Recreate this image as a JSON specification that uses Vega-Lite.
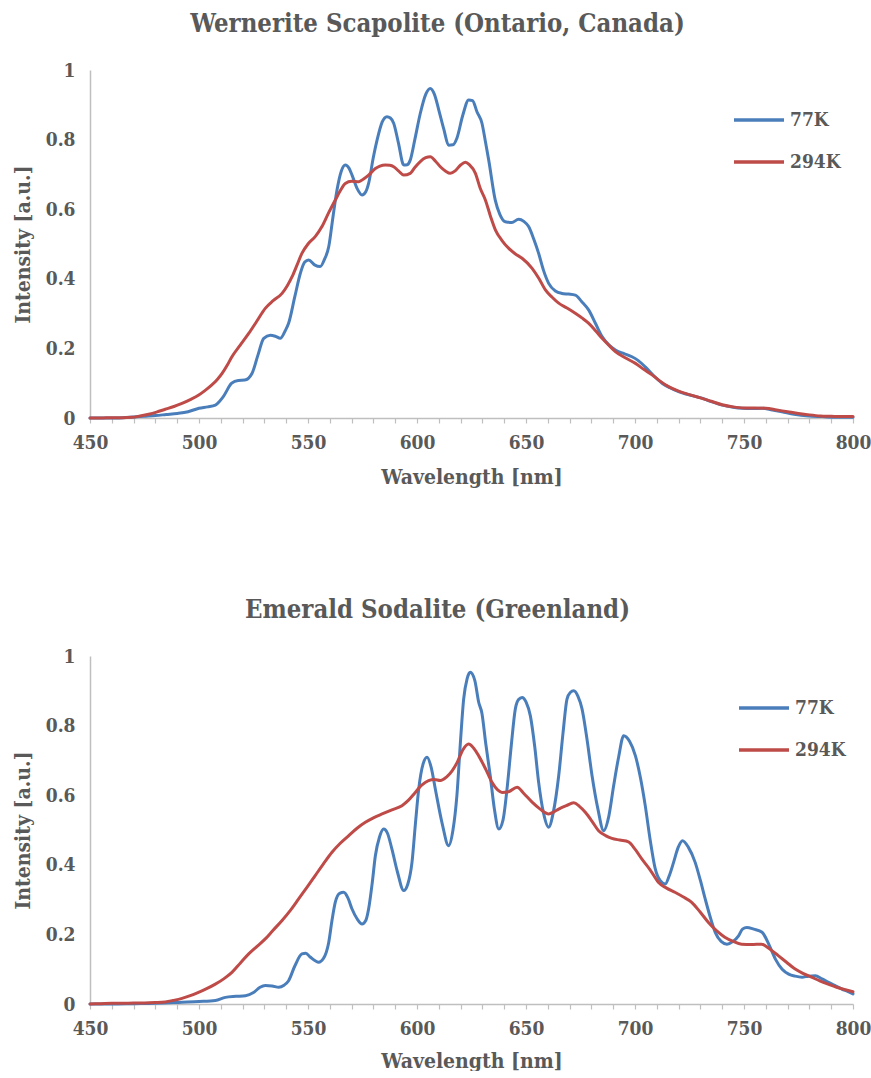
{
"$schema": "https://vega.github.io/schema/vega-lite/v6.json",
"background": "white",
"padding": {"left": 12, "top": 11, "right": 20, "bottom": 0},
"config": {
 "font": "DejaVu Serif Condensed, DejaVu Serif",
 "view": {"stroke": null},
 "axis": {"grid": false, "domainColor": "#bfbfbf", "domainWidth": 1.5, "tickColor": "#bfbfbf", "tickWidth": 1.2,
  "labelFont": "DejaVu Serif Condensed, DejaVu Serif", "labelFontWeight": "bold", "labelFontSize": 19, "labelColor": "#595959",
  "titleFont": "DejaVu Serif Condensed, DejaVu Serif", "titleFontWeight": "bold", "titleFontSize": 21, "titleColor": "#595959"},
 "legend": {"labelFont": "DejaVu Serif Condensed, DejaVu Serif", "labelFontWeight": "bold", "labelFontSize": 19, "labelColor": "#595959", "padding": 0},
 "title": {"font": "DejaVu Serif Condensed, DejaVu Serif", "fontWeight": "bold", "fontSize": 25.5, "color": "#595959", "anchor": "middle", "dx": -34, "offset": 24}
},
"resolve": {"scale": {"color": "independent"}, "legend": {"color": "independent"}},
"spacing": 110,
"datasets": {
"top": [
{"w":450,"v":0,"s":"77K"},{"w":460,"v":0,"s":"77K"},{"w":465,"v":0.001,"s":"77K"},{"w":470,"v":0.003,"s":"77K"},{"w":475,"v":0.005,"s":"77K"},{"w":480,"v":0.007,"s":"77K"},{"w":485,"v":0.01,"s":"77K"},{"w":490,"v":0.013,"s":"77K"},{"w":495,"v":0.018,"s":"77K"},{"w":500,"v":0.028,"s":"77K"},{"w":504,"v":0.032,"s":"77K"},{"w":507.5,"v":0.037,"s":"77K"},{"w":511,"v":0.06,"s":"77K"},{"w":515,"v":0.1,"s":"77K"},{"w":518,"v":0.108,"s":"77K"},{"w":521,"v":0.109,"s":"77K"},{"w":524.3,"v":0.128,"s":"77K"},{"w":527,"v":0.18,"s":"77K"},{"w":529.7,"v":0.229,"s":"77K"},{"w":532.7,"v":0.238,"s":"77K"},{"w":535,"v":0.235,"s":"77K"},{"w":537.3,"v":0.229,"s":"77K"},{"w":539.5,"v":0.25,"s":"77K"},{"w":541.1,"v":0.272,"s":"77K"},{"w":544,"v":0.35,"s":"77K"},{"w":546.5,"v":0.416,"s":"77K"},{"w":548.5,"v":0.448,"s":"77K"},{"w":550.3,"v":0.454,"s":"77K"},{"w":553,"v":0.44,"s":"77K"},{"w":555.6,"v":0.435,"s":"77K"},{"w":557.5,"v":0.455,"s":"77K"},{"w":559.5,"v":0.492,"s":"77K"},{"w":561.5,"v":0.58,"s":"77K"},{"w":563.3,"v":0.655,"s":"77K"},{"w":565.3,"v":0.71,"s":"77K"},{"w":567.1,"v":0.727,"s":"77K"},{"w":568.8,"v":0.718,"s":"77K"},{"w":570.2,"v":0.698,"s":"77K"},{"w":572.5,"v":0.66,"s":"77K"},{"w":574.8,"v":0.641,"s":"77K"},{"w":576.5,"v":0.65,"s":"77K"},{"w":577.8,"v":0.674,"s":"77K"},{"w":580,"v":0.75,"s":"77K"},{"w":581.7,"v":0.799,"s":"77K"},{"w":584,"v":0.85,"s":"77K"},{"w":586.2,"v":0.866,"s":"77K"},{"w":587.8,"v":0.862,"s":"77K"},{"w":589.3,"v":0.847,"s":"77K"},{"w":591.5,"v":0.79,"s":"77K"},{"w":593.9,"v":0.727,"s":"77K"},{"w":595.5,"v":0.728,"s":"77K"},{"w":596.9,"v":0.741,"s":"77K"},{"w":599,"v":0.8,"s":"77K"},{"w":601.5,"v":0.875,"s":"77K"},{"w":604,"v":0.93,"s":"77K"},{"w":606.1,"v":0.947,"s":"77K"},{"w":608,"v":0.93,"s":"77K"},{"w":610,"v":0.885,"s":"77K"},{"w":612.3,"v":0.83,"s":"77K"},{"w":614.5,"v":0.784,"s":"77K"},{"w":616.5,"v":0.785,"s":"77K"},{"w":618.3,"v":0.804,"s":"77K"},{"w":621,"v":0.87,"s":"77K"},{"w":623.7,"v":0.914,"s":"77K"},{"w":625.5,"v":0.912,"s":"77K"},{"w":627.5,"v":0.88,"s":"77K"},{"w":629.8,"v":0.847,"s":"77K"},{"w":631.5,"v":0.79,"s":"77K"},{"w":632.9,"v":0.741,"s":"77K"},{"w":635.9,"v":0.626,"s":"77K"},{"w":638,"v":0.585,"s":"77K"},{"w":640.5,"v":0.564,"s":"77K"},{"w":643.5,"v":0.562,"s":"77K"},{"w":646.6,"v":0.571,"s":"77K"},{"w":649,"v":0.565,"s":"77K"},{"w":651.2,"v":0.55,"s":"77K"},{"w":653.5,"v":0.515,"s":"77K"},{"w":655.8,"v":0.473,"s":"77K"},{"w":658,"v":0.425,"s":"77K"},{"w":660.4,"v":0.387,"s":"77K"},{"w":663.5,"v":0.365,"s":"77K"},{"w":666.5,"v":0.358,"s":"77K"},{"w":669.5,"v":0.356,"s":"77K"},{"w":672.6,"v":0.353,"s":"77K"},{"w":675.5,"v":0.335,"s":"77K"},{"w":678.8,"v":0.31,"s":"77K"},{"w":682,"v":0.27,"s":"77K"},{"w":684.9,"v":0.234,"s":"77K"},{"w":688,"v":0.21,"s":"77K"},{"w":691,"v":0.195,"s":"77K"},{"w":695,"v":0.185,"s":"77K"},{"w":698.6,"v":0.176,"s":"77K"},{"w":701.5,"v":0.165,"s":"77K"},{"w":704.7,"v":0.147,"s":"77K"},{"w":708.5,"v":0.122,"s":"77K"},{"w":712.4,"v":0.1,"s":"77K"},{"w":716,"v":0.087,"s":"77K"},{"w":720,"v":0.076,"s":"77K"},{"w":725,"v":0.066,"s":"77K"},{"w":730.7,"v":0.057,"s":"77K"},{"w":735,"v":0.047,"s":"77K"},{"w":740,"v":0.037,"s":"77K"},{"w":745,"v":0.031,"s":"77K"},{"w":749,"v":0.028,"s":"77K"},{"w":754,"v":0.027,"s":"77K"},{"w":758.3,"v":0.028,"s":"77K"},{"w":763,"v":0.023,"s":"77K"},{"w":767.4,"v":0.018,"s":"77K"},{"w":773,"v":0.011,"s":"77K"},{"w":779.7,"v":0.006,"s":"77K"},{"w":786,"v":0.004,"s":"77K"},{"w":791.7,"v":0.002,"s":"77K"},{"w":800,"v":0.002,"s":"77K"},
{"w":450,"v":0,"s":"294K"},{"w":455,"v":0,"s":"294K"},{"w":460,"v":0.001,"s":"294K"},{"w":465,"v":0.001,"s":"294K"},{"w":469.3,"v":0.002,"s":"294K"},{"w":473,"v":0.006,"s":"294K"},{"w":476.9,"v":0.011,"s":"294K"},{"w":480.5,"v":0.017,"s":"294K"},{"w":484.5,"v":0.025,"s":"294K"},{"w":488.5,"v":0.033,"s":"294K"},{"w":492.2,"v":0.042,"s":"294K"},{"w":496,"v":0.053,"s":"294K"},{"w":499.9,"v":0.066,"s":"294K"},{"w":503,"v":0.08,"s":"294K"},{"w":505.9,"v":0.095,"s":"294K"},{"w":508.3,"v":0.11,"s":"294K"},{"w":510.6,"v":0.128,"s":"294K"},{"w":513,"v":0.152,"s":"294K"},{"w":515.1,"v":0.176,"s":"294K"},{"w":519,"v":0.21,"s":"294K"},{"w":522.8,"v":0.243,"s":"294K"},{"w":526.5,"v":0.278,"s":"294K"},{"w":530.4,"v":0.315,"s":"294K"},{"w":534,"v":0.337,"s":"294K"},{"w":538.1,"v":0.358,"s":"294K"},{"w":540.5,"v":0.38,"s":"294K"},{"w":542.7,"v":0.406,"s":"294K"},{"w":545,"v":0.44,"s":"294K"},{"w":547.2,"v":0.473,"s":"294K"},{"w":550,"v":0.5,"s":"294K"},{"w":553.3,"v":0.521,"s":"294K"},{"w":556.4,"v":0.55,"s":"294K"},{"w":559.5,"v":0.59,"s":"294K"},{"w":562.5,"v":0.626,"s":"294K"},{"w":565,"v":0.655,"s":"294K"},{"w":567.1,"v":0.674,"s":"294K"},{"w":570,"v":0.68,"s":"294K"},{"w":573.3,"v":0.679,"s":"294K"},{"w":575.5,"v":0.687,"s":"294K"},{"w":577.8,"v":0.698,"s":"294K"},{"w":580.9,"v":0.717,"s":"294K"},{"w":583,"v":0.724,"s":"294K"},{"w":585.5,"v":0.727,"s":"294K"},{"w":587.5,"v":0.726,"s":"294K"},{"w":589.3,"v":0.722,"s":"294K"},{"w":591.5,"v":0.71,"s":"294K"},{"w":593.9,"v":0.698,"s":"294K"},{"w":596.9,"v":0.703,"s":"294K"},{"w":599,"v":0.72,"s":"294K"},{"w":601.5,"v":0.737,"s":"294K"},{"w":604,"v":0.748,"s":"294K"},{"w":606.1,"v":0.751,"s":"294K"},{"w":608.5,"v":0.738,"s":"294K"},{"w":610.7,"v":0.722,"s":"294K"},{"w":613,"v":0.71,"s":"294K"},{"w":615.3,"v":0.703,"s":"294K"},{"w":617.5,"v":0.71,"s":"294K"},{"w":620,"v":0.727,"s":"294K"},{"w":622.2,"v":0.735,"s":"294K"},{"w":624,"v":0.728,"s":"294K"},{"w":626.8,"v":0.703,"s":"294K"},{"w":629,"v":0.66,"s":"294K"},{"w":631.4,"v":0.626,"s":"294K"},{"w":633.7,"v":0.58,"s":"294K"},{"w":636,"v":0.54,"s":"294K"},{"w":639,"v":0.51,"s":"294K"},{"w":642,"v":0.488,"s":"294K"},{"w":645,"v":0.472,"s":"294K"},{"w":648.2,"v":0.459,"s":"294K"},{"w":652.8,"v":0.43,"s":"294K"},{"w":656,"v":0.4,"s":"294K"},{"w":658.9,"v":0.368,"s":"294K"},{"w":662,"v":0.347,"s":"294K"},{"w":665,"v":0.33,"s":"294K"},{"w":668.8,"v":0.316,"s":"294K"},{"w":672.6,"v":0.301,"s":"294K"},{"w":675.8,"v":0.287,"s":"294K"},{"w":678.8,"v":0.272,"s":"294K"},{"w":682,"v":0.25,"s":"294K"},{"w":684.9,"v":0.229,"s":"294K"},{"w":688,"v":0.209,"s":"294K"},{"w":691,"v":0.191,"s":"294K"},{"w":695.5,"v":0.173,"s":"294K"},{"w":700.2,"v":0.157,"s":"294K"},{"w":704,"v":0.14,"s":"294K"},{"w":707.8,"v":0.124,"s":"294K"},{"w":711.5,"v":0.106,"s":"294K"},{"w":715.4,"v":0.09,"s":"294K"},{"w":720,"v":0.077,"s":"294K"},{"w":725,"v":0.067,"s":"294K"},{"w":730,"v":0.058,"s":"294K"},{"w":735,"v":0.048,"s":"294K"},{"w":740,"v":0.038,"s":"294K"},{"w":745,"v":0.032,"s":"294K"},{"w":750,"v":0.029,"s":"294K"},{"w":755,"v":0.029,"s":"294K"},{"w":760,"v":0.028,"s":"294K"},{"w":765,"v":0.023,"s":"294K"},{"w":770,"v":0.018,"s":"294K"},{"w":775,"v":0.013,"s":"294K"},{"w":780,"v":0.009,"s":"294K"},{"w":785,"v":0.006,"s":"294K"},{"w":790,"v":0.005,"s":"294K"},{"w":795,"v":0.004,"s":"294K"},{"w":800,"v":0.004,"s":"294K"}
],
"bottom": [
{"w":450,"v":0,"s":"77K"},{"w":460,"v":0,"s":"77K"},{"w":470,"v":0.001,"s":"77K"},{"w":480,"v":0.002,"s":"77K"},{"w":492.2,"v":0.005,"s":"77K"},{"w":500,"v":0.007,"s":"77K"},{"w":507.5,"v":0.01,"s":"77K"},{"w":512.1,"v":0.019,"s":"77K"},{"w":517,"v":0.022,"s":"77K"},{"w":521.3,"v":0.024,"s":"77K"},{"w":525,"v":0.033,"s":"77K"},{"w":528,"v":0.048,"s":"77K"},{"w":530.4,"v":0.053,"s":"77K"},{"w":533.5,"v":0.052,"s":"77K"},{"w":536.6,"v":0.048,"s":"77K"},{"w":539,"v":0.054,"s":"77K"},{"w":541.1,"v":0.067,"s":"77K"},{"w":544,"v":0.11,"s":"77K"},{"w":547.2,"v":0.144,"s":"77K"},{"w":549,"v":0.146,"s":"77K"},{"w":551,"v":0.135,"s":"77K"},{"w":554.9,"v":0.12,"s":"77K"},{"w":557,"v":0.13,"s":"77K"},{"w":559.5,"v":0.177,"s":"77K"},{"w":561,"v":0.24,"s":"77K"},{"w":562.5,"v":0.292,"s":"77K"},{"w":564.5,"v":0.318,"s":"77K"},{"w":566.4,"v":0.321,"s":"77K"},{"w":568.3,"v":0.305,"s":"77K"},{"w":570.2,"v":0.273,"s":"77K"},{"w":572.5,"v":0.245,"s":"77K"},{"w":574.8,"v":0.23,"s":"77K"},{"w":576.5,"v":0.24,"s":"77K"},{"w":577.8,"v":0.273,"s":"77K"},{"w":579.5,"v":0.35,"s":"77K"},{"w":580.9,"v":0.426,"s":"77K"},{"w":582.8,"v":0.48,"s":"77K"},{"w":584.7,"v":0.503,"s":"77K"},{"w":586.5,"v":0.49,"s":"77K"},{"w":588.5,"v":0.445,"s":"77K"},{"w":591,"v":0.38,"s":"77K"},{"w":593.9,"v":0.326,"s":"77K"},{"w":595.8,"v":0.345,"s":"77K"},{"w":597.7,"v":0.407,"s":"77K"},{"w":599.3,"v":0.52,"s":"77K"},{"w":600.8,"v":0.618,"s":"77K"},{"w":602.8,"v":0.69,"s":"77K"},{"w":604.6,"v":0.709,"s":"77K"},{"w":606.5,"v":0.68,"s":"77K"},{"w":608.4,"v":0.618,"s":"77K"},{"w":611.5,"v":0.52,"s":"77K"},{"w":614.5,"v":0.455,"s":"77K"},{"w":616.5,"v":0.5,"s":"77K"},{"w":618.3,"v":0.599,"s":"77K"},{"w":620,"v":0.76,"s":"77K"},{"w":621.4,"v":0.876,"s":"77K"},{"w":623,"v":0.935,"s":"77K"},{"w":624.4,"v":0.953,"s":"77K"},{"w":626.5,"v":0.93,"s":"77K"},{"w":628.3,"v":0.867,"s":"77K"},{"w":629.8,"v":0.835,"s":"77K"},{"w":631.5,"v":0.75,"s":"77K"},{"w":633.6,"v":0.656,"s":"77K"},{"w":635.5,"v":0.56,"s":"77K"},{"w":637.5,"v":0.503,"s":"77K"},{"w":639.5,"v":0.53,"s":"77K"},{"w":641.3,"v":0.618,"s":"77K"},{"w":643.2,"v":0.74,"s":"77K"},{"w":645.1,"v":0.848,"s":"77K"},{"w":646.6,"v":0.875,"s":"77K"},{"w":648.2,"v":0.881,"s":"77K"},{"w":650,"v":0.868,"s":"77K"},{"w":652,"v":0.828,"s":"77K"},{"w":654,"v":0.74,"s":"77K"},{"w":655.8,"v":0.637,"s":"77K"},{"w":658,"v":0.55,"s":"77K"},{"w":660.4,"v":0.508,"s":"77K"},{"w":662.5,"v":0.55,"s":"77K"},{"w":665,"v":0.656,"s":"77K"},{"w":667,"v":0.78,"s":"77K"},{"w":668.8,"v":0.876,"s":"77K"},{"w":670.3,"v":0.895,"s":"77K"},{"w":671.9,"v":0.9,"s":"77K"},{"w":673.8,"v":0.885,"s":"77K"},{"w":675.7,"v":0.848,"s":"77K"},{"w":678,"v":0.76,"s":"77K"},{"w":680.3,"v":0.656,"s":"77K"},{"w":683,"v":0.56,"s":"77K"},{"w":685.6,"v":0.498,"s":"77K"},{"w":688,"v":0.54,"s":"77K"},{"w":690.2,"v":0.627,"s":"77K"},{"w":692.5,"v":0.71,"s":"77K"},{"w":694.8,"v":0.771,"s":"77K"},{"w":697.5,"v":0.755,"s":"77K"},{"w":700.2,"v":0.713,"s":"77K"},{"w":702.5,"v":0.65,"s":"77K"},{"w":704.7,"v":0.57,"s":"77K"},{"w":707,"v":0.47,"s":"77K"},{"w":709.3,"v":0.388,"s":"77K"},{"w":711.5,"v":0.355,"s":"77K"},{"w":713.9,"v":0.345,"s":"77K"},{"w":715.8,"v":0.37,"s":"77K"},{"w":717.7,"v":0.407,"s":"77K"},{"w":719.8,"v":0.45,"s":"77K"},{"w":721.8,"v":0.469,"s":"77K"},{"w":724.5,"v":0.45,"s":"77K"},{"w":727.6,"v":0.407,"s":"77K"},{"w":730,"v":0.355,"s":"77K"},{"w":732.2,"v":0.302,"s":"77K"},{"w":734.5,"v":0.25,"s":"77K"},{"w":736.8,"v":0.206,"s":"77K"},{"w":739.5,"v":0.18,"s":"77K"},{"w":742.2,"v":0.172,"s":"77K"},{"w":745,"v":0.18,"s":"77K"},{"w":747.5,"v":0.196,"s":"77K"},{"w":749.3,"v":0.215,"s":"77K"},{"w":751.3,"v":0.22,"s":"77K"},{"w":754.5,"v":0.215,"s":"77K"},{"w":758.3,"v":0.206,"s":"77K"},{"w":761.5,"v":0.17,"s":"77K"},{"w":764.4,"v":0.129,"s":"77K"},{"w":767.5,"v":0.1,"s":"77K"},{"w":770.5,"v":0.086,"s":"77K"},{"w":773.5,"v":0.08,"s":"77K"},{"w":776.6,"v":0.077,"s":"77K"},{"w":779.5,"v":0.08,"s":"77K"},{"w":782.7,"v":0.081,"s":"77K"},{"w":785.8,"v":0.072,"s":"77K"},{"w":788.8,"v":0.062,"s":"77K"},{"w":792,"v":0.052,"s":"77K"},{"w":794.9,"v":0.043,"s":"77K"},{"w":797.5,"v":0.036,"s":"77K"},{"w":800,"v":0.029,"s":"77K"},
{"w":450,"v":0,"s":"294K"},{"w":455,"v":0.001,"s":"294K"},{"w":460,"v":0.002,"s":"294K"},{"w":465,"v":0.002,"s":"294K"},{"w":470,"v":0.003,"s":"294K"},{"w":475,"v":0.003,"s":"294K"},{"w":480,"v":0.004,"s":"294K"},{"w":484.5,"v":0.006,"s":"294K"},{"w":488,"v":0.01,"s":"294K"},{"w":492.2,"v":0.016,"s":"294K"},{"w":496,"v":0.024,"s":"294K"},{"w":499.9,"v":0.034,"s":"294K"},{"w":503.5,"v":0.044,"s":"294K"},{"w":507.5,"v":0.057,"s":"294K"},{"w":511.5,"v":0.073,"s":"294K"},{"w":515.1,"v":0.091,"s":"294K"},{"w":519,"v":0.118,"s":"294K"},{"w":522.8,"v":0.144,"s":"294K"},{"w":526.5,"v":0.165,"s":"294K"},{"w":530.4,"v":0.187,"s":"294K"},{"w":534,"v":0.212,"s":"294K"},{"w":538.1,"v":0.24,"s":"294K"},{"w":542,"v":0.27,"s":"294K"},{"w":545.7,"v":0.302,"s":"294K"},{"w":549.5,"v":0.335,"s":"294K"},{"w":553.3,"v":0.369,"s":"294K"},{"w":557,"v":0.402,"s":"294K"},{"w":561,"v":0.436,"s":"294K"},{"w":564.8,"v":0.462,"s":"294K"},{"w":568.7,"v":0.484,"s":"294K"},{"w":572.5,"v":0.505,"s":"294K"},{"w":576.3,"v":0.522,"s":"294K"},{"w":580,"v":0.535,"s":"294K"},{"w":584,"v":0.546,"s":"294K"},{"w":588.5,"v":0.558,"s":"294K"},{"w":593.1,"v":0.57,"s":"294K"},{"w":596,"v":0.585,"s":"294K"},{"w":599.2,"v":0.608,"s":"294K"},{"w":602,"v":0.628,"s":"294K"},{"w":605.3,"v":0.642,"s":"294K"},{"w":608,"v":0.645,"s":"294K"},{"w":610.7,"v":0.642,"s":"294K"},{"w":613.5,"v":0.652,"s":"294K"},{"w":616.1,"v":0.67,"s":"294K"},{"w":618.5,"v":0.695,"s":"294K"},{"w":621,"v":0.73,"s":"294K"},{"w":623.7,"v":0.747,"s":"294K"},{"w":626,"v":0.735,"s":"294K"},{"w":628.3,"v":0.713,"s":"294K"},{"w":631.5,"v":0.675,"s":"294K"},{"w":634.4,"v":0.637,"s":"294K"},{"w":637,"v":0.615,"s":"294K"},{"w":639,"v":0.608,"s":"294K"},{"w":642,"v":0.61,"s":"294K"},{"w":645.9,"v":0.623,"s":"294K"},{"w":649,"v":0.605,"s":"294K"},{"w":652.8,"v":0.58,"s":"294K"},{"w":656.5,"v":0.56,"s":"294K"},{"w":660.4,"v":0.546,"s":"294K"},{"w":663,"v":0.553,"s":"294K"},{"w":665,"v":0.56,"s":"294K"},{"w":668.5,"v":0.57,"s":"294K"},{"w":671.9,"v":0.578,"s":"294K"},{"w":674.5,"v":0.568,"s":"294K"},{"w":677.2,"v":0.551,"s":"294K"},{"w":680.3,"v":0.525,"s":"294K"},{"w":683.3,"v":0.498,"s":"294K"},{"w":686.5,"v":0.484,"s":"294K"},{"w":689.4,"v":0.476,"s":"294K"},{"w":693,"v":0.471,"s":"294K"},{"w":697,"v":0.466,"s":"294K"},{"w":700,"v":0.445,"s":"294K"},{"w":703.1,"v":0.417,"s":"294K"},{"w":707,"v":0.385,"s":"294K"},{"w":710.7,"v":0.35,"s":"294K"},{"w":714.5,"v":0.333,"s":"294K"},{"w":718.3,"v":0.321,"s":"294K"},{"w":722,"v":0.308,"s":"294K"},{"w":726,"v":0.292,"s":"294K"},{"w":729.8,"v":0.265,"s":"294K"},{"w":733.6,"v":0.235,"s":"294K"},{"w":737.5,"v":0.21,"s":"294K"},{"w":741.2,"v":0.192,"s":"294K"},{"w":745,"v":0.18,"s":"294K"},{"w":748.9,"v":0.172,"s":"294K"},{"w":753.5,"v":0.171,"s":"294K"},{"w":758,"v":0.172,"s":"294K"},{"w":762,"v":0.157,"s":"294K"},{"w":765.7,"v":0.139,"s":"294K"},{"w":769.5,"v":0.12,"s":"294K"},{"w":773.3,"v":0.101,"s":"294K"},{"w":777,"v":0.088,"s":"294K"},{"w":781,"v":0.077,"s":"294K"},{"w":785,"v":0.066,"s":"294K"},{"w":788.6,"v":0.057,"s":"294K"},{"w":792.5,"v":0.048,"s":"294K"},{"w":796.5,"v":0.041,"s":"294K"},{"w":800,"v":0.035,"s":"294K"}
]
},
"vconcat": [
{
 "title": {"text": "Wernerite  Scapolite (Ontario, Canada)"},
 "width": 763, "height": 348,
 "data": {"name": "top"},
 "mark": {"type": "line", "strokeWidth": 3, "interpolate": "monotone", "strokeCap": "round", "strokeJoin": "round"},
 "encoding": {
  "x": {"field": "w", "type": "quantitative", "scale": {"domain": [450, 800], "nice": false, "zero": false},
   "axis": {"title": "Wavelength [nm]", "values": [450,460,470,480,490,500,510,520,530,540,550,560,570,580,590,600,610,620,630,640,650,660,670,680,690,700,710,720,730,740,750,760,770,780,790,800],
    "labelExpr": "datum.value % 50 == 0 ? datum.label : ''", "labelOverlap": false, "labelBound": false, "labelFlush": false, "tickSize": 5, "labelPadding": 10, "titlePadding": 14}},
  "y": {"field": "v", "type": "quantitative", "scale": {"domain": [0, 1], "nice": false},
   "axis": {"title": "Intensity [a.u.]", "values": [0,0.2,0.4,0.6,0.8,1], "format": ".1~f", "ticks": false, "labelPadding": 15, "titlePadding": 12}},
  "color": {"field": "s", "type": "nominal", "sort": ["77K", "294K"], "scale": {"domain": ["77K", "294K"], "range": ["#4a7ebb", "#be4b48"]},
   "legend": {"title": null, "orient": "none", "legendX": 642, "legendY": 23, "symbolType": "stroke", "symbolSize": 2500, "symbolStrokeWidth": 3.5, "rowPadding": 5, "labelOffset": 4}}
 }
},
{
 "title": {"text": "Emerald Sodalite (Greenland)"},
 "width": 763, "height": 348,
 "data": {"name": "bottom"},
 "mark": {"type": "line", "strokeWidth": 3, "interpolate": "monotone", "strokeCap": "round", "strokeJoin": "round"},
 "encoding": {
  "x": {"field": "w", "type": "quantitative", "scale": {"domain": [450, 800], "nice": false, "zero": false},
   "axis": {"title": "Wavelength [nm]", "values": [450,460,470,480,490,500,510,520,530,540,550,560,570,580,590,600,610,620,630,640,650,660,670,680,690,700,710,720,730,740,750,760,770,780,790,800],
    "labelExpr": "datum.value % 50 == 0 ? datum.label : ''", "labelOverlap": false, "labelBound": false, "labelFlush": false, "tickSize": 5, "labelPadding": 10, "titlePadding": 12}},
  "y": {"field": "v", "type": "quantitative", "scale": {"domain": [0, 1], "nice": false},
   "axis": {"title": "Intensity [a.u.]", "values": [0,0.2,0.4,0.6,0.8,1], "format": ".1~f", "ticks": false, "labelPadding": 15, "titlePadding": 12}},
  "color": {"field": "s", "type": "nominal", "sort": ["77K", "294K"], "scale": {"domain": ["77K", "294K"], "range": ["#4a7ebb", "#be4b48"]},
   "legend": {"title": null, "orient": "none", "legendX": 647, "legendY": 25, "symbolType": "stroke", "symbolSize": 2500, "symbolStrokeWidth": 3.5, "rowPadding": 5, "labelOffset": 4}}
 }
}
]
}
